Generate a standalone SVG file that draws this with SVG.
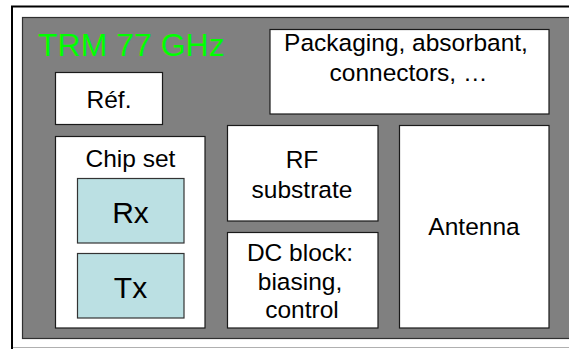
<svg xmlns="http://www.w3.org/2000/svg" width="569" height="349" viewBox="0 0 569 349">
  <style>
    .box { fill: #ffffff; stroke: #1a1a1a; stroke-width: 1.2; }
    .chip { fill: #bbe0e3; stroke: #333333; stroke-width: 1.2; }
    .lbl { font-family: "Liberation Sans", Arial, sans-serif; font-size: 24.5px; fill: #000000; text-anchor: middle; }
    .big { font-size: 30px; }
    .title { font-family: "Liberation Sans", Arial, sans-serif; font-size: 32px; fill: #00ff00; }
  </style>

  <!-- page background and frame -->
  <rect x="0" y="0" width="569" height="349" fill="#ffffff"/>
  <line x1="11" y1="6.5" x2="569" y2="6.5" stroke="#000000" stroke-width="2"/>
  <line x1="12" y1="6" x2="12" y2="349" stroke="#000000" stroke-width="2"/>
  <line x1="13" y1="347.5" x2="569" y2="347.5" stroke="#b0b0b0" stroke-width="1"/>

  <!-- module panel -->
  <g id="panel">
    <rect x="22.5" y="17.5" width="600" height="321" fill="#808080" stroke="#303030" stroke-width="1.2"/>
    <text class="title" x="38" y="56">TRM 77 GHz</text>
  </g>

  <g id="ref">
    <rect class="box" x="55.5" y="72.5" width="107" height="52"/>
    <text class="lbl" x="109" y="108">Réf.</text>
  </g>

  <g id="packaging">
    <rect class="box" x="270" y="29.5" width="279" height="84.5"/>
    <text class="lbl" x="406" y="51">Packaging, absorbant,</text>
    <text class="lbl" x="408.5" y="81">connectors, …</text>
  </g>

  <g id="chipset">
    <rect class="box" x="55.5" y="136.5" width="149.5" height="191.5"/>
    <text class="lbl" x="130.5" y="167">Chip set</text>
  </g>

  <g id="rx">
    <rect class="chip" x="77.5" y="178.5" width="106.5" height="64.5"/>
    <text class="lbl big" x="130.5" y="222.5">Rx</text>
  </g>

  <g id="tx">
    <rect class="chip" x="77.5" y="253.5" width="106.5" height="64.5"/>
    <text class="lbl big" x="130.5" y="298">Tx</text>
  </g>

  <g id="rf-substrate">
    <rect class="box" x="227.5" y="125.5" width="150.5" height="95.5"/>
    <text class="lbl" x="302" y="168">RF</text>
    <text class="lbl" x="302" y="198">substrate</text>
  </g>

  <g id="dc-block">
    <rect class="box" x="227.5" y="232.5" width="150.5" height="95.5"/>
    <text class="lbl" x="300" y="260.5">DC block:</text>
    <text class="lbl" x="300" y="289.5">biasing,</text>
    <text class="lbl" x="302" y="318">control</text>
  </g>

  <g id="antenna">
    <rect class="box" x="399.5" y="125.5" width="149.5" height="202.5"/>
    <text class="lbl" x="474" y="235">Antenna</text>
  </g>

  <!-- blocks are placed side by side, no connectors drawn -->
  <g id="connectors"/>
</svg>
